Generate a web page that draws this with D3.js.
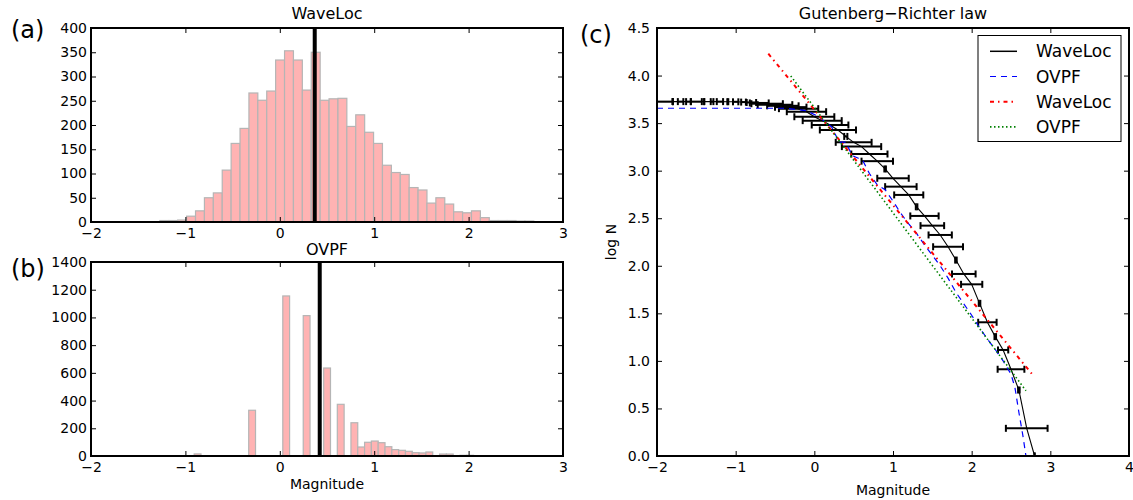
<!DOCTYPE html>
<html><head><meta charset="utf-8">
<script src="https://cdn.jsdelivr.net/npm/d3@7"></script>
<style>
body{margin:0;background:#fff;}
text{font-family:"DejaVu Sans",sans-serif;fill:#000;}
</style></head><body>
<svg id="chart" width="1133" height="500" xmlns="http://www.w3.org/2000/svg"></svg>
<script>
// ---------------- data ----------------
const histXTicks = [-2, -1, 0, 1, 2, 3];
const waveLocYTicks = [0, 50, 100, 150, 200, 250, 300, 350, 400];
const ovpfYTicks = [0, 200, 400, 600, 800, 1000, 1200, 1400];
const grXTicks = [-2, -1, 0, 1, 2, 3, 4];
const grYTicks = [0, 0.5, 1, 1.5, 2, 2.5, 3, 3.5, 4, 4.5];

const waveLocBinStart = -1.27;
const waveLocBinWidth = 0.0943;
const waveLocCounts = [3, 3, 4, 12, 23, 50, 60, 107, 162, 193, 266, 251, 270, 334, 353,
  334, 272, 350, 251, 254, 255, 197, 221, 185, 162, 117, 102, 98, 71, 66, 39, 50, 37,
  21, 19, 23, 9, 3, 3, 3, 2, 2];
const waveLocMarker = 0.37;

const ovpfBinStart = -0.907;
const ovpfBinWidth = 0.0722;
const ovpfCounts = [15, 0, 0, 0, 0, 0, 0, 0, 330, 0, 0, 0, 0, 1155, 0, 0, 1013, 0, 0, 635,
  0, 373, 0, 240, 65, 99, 108, 96, 67, 46, 41, 34, 24, 22, 29, 0, 14, 14, 0, 5, 5];
const ovpfMarker = 0.423;

const grWaveLocMag = [-2.0, -1.9, -1.8, -1.7, -1.6, -1.5, -1.4, -1.3, -1.2, -1.1, -1.0, -0.9,
  -0.8, -0.7, -0.6, -0.5, -0.4, -0.3, -0.2, -0.1, 0.0, 0.1, 0.2, 0.3, 0.4, 0.5, 0.6, 0.7,
  0.8, 0.9, 1.0, 1.1, 1.2, 1.3, 1.4, 1.5, 1.6, 1.7, 1.8, 1.9, 2.0, 2.1, 2.2, 2.3, 2.4, 2.5,
  2.6, 2.7, 2.8];
const grWaveLocLogN = [3.726, 3.726, 3.726, 3.726, 3.726, 3.726, 3.726, 3.726, 3.726, 3.725,
  3.724, 3.721, 3.717, 3.712, 3.704, 3.694, 3.682, 3.668, 3.652, 3.62, 3.567, 3.526, 3.48,
  3.428, 3.36, 3.298, 3.253, 3.175, 3.10, 3.018, 2.92, 2.832, 2.745, 2.62, 2.524, 2.422,
  2.324, 2.2, 2.06, 1.914, 1.805, 1.605, 1.406, 1.255, 1.115, 0.912, 0.694, 0.291, 0.0];
const grWaveLocErr = [0, 0.1, 0, 0.035, 0.03, 0.07, 0, 0.017, 0.04, 0.006, 0.034, 0.03,
  0.06, 0.12, 0.2, 0.22, 0.2, 0.2, 0.25, 0.25, 0.254, 0.248, 0.233, 0.23, 0.02, 0.228, 0.25,
  0.23, 0.2, 0.01, 0.2, 0.2, 0.185, 0.01, 0.18, 0.15, 0.148, 0.19, 0.01, 0.15, 0.135, 0.01,
  0.117, 0.01, 0.065, 0.17, 0.01, 0.265, 0];

const grOvpfMag = [-2.0, -0.35, -0.1, 0.05, 0.22, 0.28, 0.30, 0.40, 0.48, 0.56, 0.62, 0.70,
  0.80, 0.90, 1.0, 1.1, 1.2, 1.3, 1.4, 1.5, 1.6, 1.7, 1.8, 1.9, 2.0, 2.1, 2.2, 2.3, 2.4, 2.5,
  2.55, 2.6, 2.65, 2.69];
const grOvpfLogN = [3.656, 3.656, 3.63, 3.57, 3.46, 3.36, 3.30, 3.30, 3.16, 3.13, 3.10, 2.97,
  2.85, 2.80, 2.68, 2.55, 2.44, 2.34, 2.22, 2.11, 2.0, 1.87, 1.72, 1.6, 1.48, 1.35, 1.23,
  1.12, 1.0, 0.86, 0.72, 0.46, 0.22, 0.0];

const fitWaveLocMag = [-0.585, 2.784];
const fitWaveLocLogN = [4.23, 0.845];
const fitOvpfMag = [-0.30, 2.69];
const fitOvpfLogN = [3.996, 0.687];

const legendLabels = ["WaveLoc", "OVPF", "WaveLoc", "OVPF"];
const legendColors = ["#000000", "#0000ff", "#ff0000", "#008000"];
const legendDashes = [null, "6,5", "4,4,1.5,4", "1.5,2.5"];
const legendWidths = [1.5, 1.2, 2, 1.6];

// ---------------- drawing ----------------
const svg = d3.select("#chart");
const TICKFS = "14px";

function drawAxes(g, x, y, xTicks, yTicks, yFmt, xFmt, yPad) {
  const [x0, x1] = x.range();
  const [y0, y1] = y.range(); // y0 bottom, y1 top
  const bottom = g.append("g").attr("transform", `translate(0,${y0})`)
    .call(d3.axisBottom(x).tickValues(xTicks).tickSize(-5).tickPadding(6).tickFormat(xFmt));
  const top = g.append("g").attr("transform", `translate(0,${y1})`)
    .call(d3.axisTop(x).tickValues(xTicks).tickSize(-5).tickFormat(""));
  const left = g.append("g").attr("transform", `translate(${x0},0)`)
    .call(d3.axisLeft(y).tickValues(yTicks).tickSize(-5).tickPadding(yPad).tickFormat(yFmt));
  const right = g.append("g").attr("transform", `translate(${x1},0)`)
    .call(d3.axisRight(y).tickValues(yTicks).tickSize(-5).tickFormat(""));
  [bottom, top, left, right].forEach(a => {
    a.select(".domain").remove();
    a.selectAll("line").attr("stroke", "#000").attr("stroke-width", 1);
    a.selectAll("text").style("font-size", TICKFS).attr("fill", "#000")
      .style("font-family", '"DejaVu Sans", sans-serif');
  });
  g.append("rect").attr("x", x0).attr("y", y1).attr("width", x1 - x0).attr("height", y0 - y1)
    .attr("fill", "none").attr("stroke", "#000").attr("stroke-width", 2);
}

function histPanel(yTop, yBot, counts, start, width, marker, yTicks, yMax, title, titleY) {
  const g = svg.append("g");
  const x = d3.scaleLinear().domain([-2, 3]).range([91, 563]);
  const y = d3.scaleLinear().domain([0, yMax]).range([yBot, yTop]);
  const bins = counts.map((c, i) => ({ x0: start + i * width, x1: start + (i + 1) * width, c }))
    .filter(d => d.c > 0);
  g.selectAll("rect.bar").data(bins).enter().append("rect").attr("class", "bar")
    .attr("x", d => x(d.x0)).attr("width", d => x(d.x1) - x(d.x0))
    .attr("y", d => y(d.c)).attr("height", d => y(0) - y(d.c))
    .attr("fill", "#ffb3b3").attr("stroke", "#b5b5b5").attr("stroke-width", 1.2);
  g.append("line").attr("x1", x(marker)).attr("x2", x(marker))
    .attr("y1", y(yMax)).attr("y2", y(0)).attr("stroke", "#000").attr("stroke-width", 4);
  drawAxes(g, x, y, histXTicks, yTicks, d3.format("d"), d3.format("d"), 4);
  g.append("text").attr("x", (91 + 563) / 2).attr("y", titleY).attr("text-anchor", "middle")
    .style("font-size", "16px").text(title);
  return { g, x, y };
}

const pa = histPanel(28, 222, waveLocCounts, waveLocBinStart, waveLocBinWidth, waveLocMarker,
  waveLocYTicks, 400, "WaveLoc", 19);
const pb = histPanel(262, 456, ovpfCounts, ovpfBinStart, ovpfBinWidth, ovpfMarker,
  ovpfYTicks, 1400, "OVPF", 255);
pb.g.append("text").attr("x", 327).attr("y", 489).attr("text-anchor", "middle")
  .style("font-size", "14px").text("Magnitude");

svg.append("text").attr("x", 11).attr("y", 38).style("font-size", "24px").text("(a)");
svg.append("text").attr("x", 11).attr("y", 277).style("font-size", "24px").text("(b)");
svg.append("text").attr("x", 580).attr("y", 43).style("font-size", "24px").text("(c)");

// panel (c)
const gc = svg.append("g");
const xc = d3.scaleLinear().domain([-2, 4]).range([657, 1129]);
const yc = d3.scaleLinear().domain([0, 4.5]).range([456, 28]);
gc.append("clipPath").attr("id", "clipc").append("rect")
  .attr("x", 657).attr("y", 28).attr("width", 1129 - 657).attr("height", 456 - 28);
const plot = gc.append("g").attr("clip-path", "url(#clipc)");

const wl = grWaveLocMag.map((m, i) => ({ m, n: grWaveLocLogN[i], e: grWaveLocErr[i] }));
const line = d3.line().x(d => xc(d.m)).y(d => yc(d.n));

// error bars
const eb = plot.append("g").attr("stroke", "#000").attr("stroke-width", 2);
wl.forEach(d => {
  const cy = yc(d.n);
  eb.append("line").attr("x1", xc(d.m - d.e)).attr("x2", xc(d.m + d.e)).attr("y1", cy).attr("y2", cy);
  eb.append("line").attr("x1", xc(d.m - d.e)).attr("x2", xc(d.m - d.e)).attr("y1", cy - 3.5).attr("y2", cy + 3.5);
  eb.append("line").attr("x1", xc(d.m + d.e)).attr("x2", xc(d.m + d.e)).attr("y1", cy - 3.5).attr("y2", cy + 3.5);
});
plot.append("path").datum(wl).attr("d", line).attr("fill", "none")
  .attr("stroke", "#000").attr("stroke-width", 1.1);

const ov = grOvpfMag.map((m, i) => ({ m, n: grOvpfLogN[i] }));
plot.append("path").datum(ov).attr("d", line).attr("fill", "none")
  .attr("stroke", legendColors[1]).attr("stroke-width", legendWidths[1]).attr("stroke-dasharray", legendDashes[1]);

const fw = fitWaveLocMag.map((m, i) => ({ m, n: fitWaveLocLogN[i] }));
plot.append("path").datum(fw).attr("d", line).attr("fill", "none")
  .attr("stroke", legendColors[2]).attr("stroke-width", legendWidths[2]).attr("stroke-dasharray", legendDashes[2]);

const fo = fitOvpfMag.map((m, i) => ({ m, n: fitOvpfLogN[i] }));
plot.append("path").datum(fo).attr("d", line).attr("fill", "none")
  .attr("stroke", legendColors[3]).attr("stroke-width", legendWidths[3]).attr("stroke-dasharray", legendDashes[3]);

drawAxes(gc, xc, yc, grXTicks, grYTicks, d3.format(".1f"), d3.format("d"), 7);

gc.append("text").attr("x", 893).attr("y", 19).attr("text-anchor", "middle")
  .style("font-size", "16px").text("Gutenberg\u2212Richter law");
gc.append("text").attr("x", 893).attr("y", 495).attr("text-anchor", "middle")
  .style("font-size", "14px").text("Magnitude");
gc.append("text").attr("transform", "translate(616,242) rotate(-90)").attr("text-anchor", "middle")
  .style("font-size", "14px").text("log N");

// legend
const lg = gc.append("g");
lg.append("rect").attr("x", 978).attr("y", 35.5).attr("width", 143).attr("height", 106)
  .attr("fill", "#fff").attr("stroke", "#000").attr("stroke-width", 1);
legendLabels.forEach((lab, i) => {
  const cy = 51.3 + i * 25.2;
  const ln = lg.append("line").attr("x1", 990).attr("x2", 1017).attr("y1", cy).attr("y2", cy)
    .attr("stroke", legendColors[i]).attr("stroke-width", legendWidths[i]);
  if (legendDashes[i]) ln.attr("stroke-dasharray", legendDashes[i]);
  lg.append("text").attr("x", 1036).attr("y", cy + 6).style("font-size", "17px").text(lab);
});
</script>
</body></html>
